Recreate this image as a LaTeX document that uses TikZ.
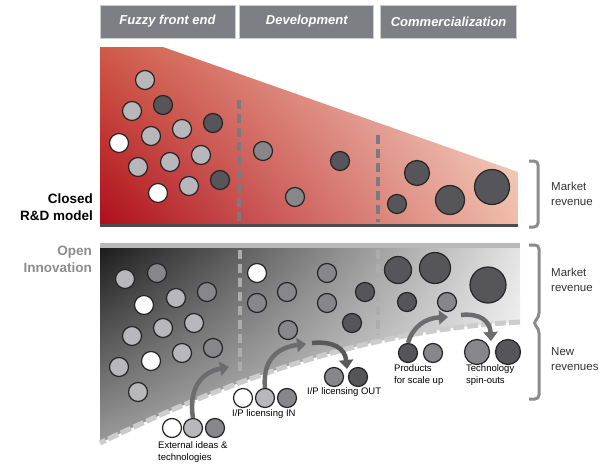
\documentclass[tikz,border=0pt]{standalone}
\usepackage{fontspec}
\setmainfont{Liberation Sans}
\usepackage{xcolor}
\usetikzlibrary{arrows.meta}
\usetikzlibrary{positioning}
\usetikzlibrary{shadings}

\definecolor{hdrgray}{HTML}{7E7F84}
\definecolor{ballL}{HTML}{B8B8BC}
\definecolor{ballM}{HTML}{87878B}
\definecolor{ballD}{HTML}{56565A}
\definecolor{closedTL}{HTML}{D05A48}
\definecolor{closedBL}{HTML}{AE0E1A}
\definecolor{closedTR}{HTML}{F7E0D6}
\definecolor{closedBR}{HTML}{F0BCA8}
\definecolor{openTL}{HTML}{1A1A1A}
\definecolor{openBL}{HTML}{9A9A9A}
\definecolor{openTR}{HTML}{E4E4E4}
\definecolor{openBR}{HTML}{FFFFFF}
\definecolor{arrowgray}{HTML}{6C6C6F}
\definecolor{bracegray}{HTML}{8C8C8E}
\definecolor{phasegray}{HTML}{7A7A80}

\begin{document}
\begin{tikzpicture}[x=1pt,y=-1pt,
	hdr/.style={fill=hdrgray,draw=gray!40,line width=0.8pt,minimum height=33pt,text=white,font=\fontsize{13}{14}\selectfont\bfseries\itshape},
	ball/.style={circle,draw=black!85,line width=1.2pt,fill=#1,inner sep=0pt,minimum size=19pt},
	phase/.style={draw=phasegray,line width=3.5pt,dash pattern=on 9pt off 5pt},
	flow/.style={draw=arrowgray,line width=4.5pt,-{Triangle[length=9pt,width=14pt]}},
	lbl/.style={font=\fontsize{9.5}{12}\selectfont,align=left,anchor=north west,inner sep=0pt},
	rev/.style={font=\fontsize{11.5}{15}\selectfont,align=left,anchor=west,inner sep=0pt,text=black!80},
	model/.style={font=\fontsize{13.5}{17.5}\selectfont\bfseries,align=right,anchor=east,inner sep=0pt},
	brace/.style={draw=bracegray,line width=3pt,rounded corners=4pt}]
		\useasboundingbox (0,0) rectangle (603,466);
		
		% phases
		\node[hdr,minimum width=135pt] (fuzzy) at (167.5,21.5) {Fuzzy front end};
		\node[hdr,minimum width=134pt,right=4pt of fuzzy] (devel) {Development};
		\node[hdr,minimum width=136pt,right=6pt of devel] (comm) {Commercialization};
		
		% closed R&D model
		\shade[upper left=closedTL,upper right=closedTR,lower left=closedBL,lower right=closedBR]
			(100,47) -- (163,47) -- (518,172) -- (518,226) -- (100,226) -- cycle;
		\draw[line width=3pt,draw=black!70] (100,225) -- (518,225);
		\draw[phase] (239,100) -- (239,222);
		\draw[phase] (378,135) -- (378,222);
		
		\foreach \x/\y/\c [count=\i] in {145/80/ballL,132/111/ballL,163/105/ballD,182/129/ballL,213/123/ballD,
			151/136/ballL,119/143/white,201/155/ballL,170/162/ballL,138/167/ballL,220/180/ballD,189/186/ballL,158/193/white}
			\node[ball=\c] (cl\i) at (\x,\y) {};
		\foreach \x/\y/\c/\s [count=\i] in {263/151/ballM/19,295/197/ballM/19,340/161/ballD/19,
			397/204/ballD/19,417/173/ballD/25,450/200/ballD/29,492/187/ballD/35}
			\node[ball=\c,minimum size=\s pt] (cm\i) at (\x,\y) {};
		
		\node[model] (closed) at (93,207) {Closed\\R\&D model};
		\draw[brace] (529,161) -| (538,227) -- (529,227);
		\node[rev] (mrev1) at (551,193.5) {Market\\revenue};
		
		% open innovation
		\shade[upper left=openTL,upper right=openTR,lower left=openBL,lower right=openBR]
			(100,245) -- (520,245) -- (520,322) .. controls (360,330) and (220,385) .. (100,443) -- cycle;
		\draw[line width=5pt,draw=gray!55] (100,245) -- (520,245);
		\draw[line width=5pt,draw=gray!40,dash pattern=on 11pt off 3pt]
			(520,322) .. controls (360,330) and (220,385) .. (100,443);
		\draw[phase,draw=gray!65] (240,250) -- (240,372);
		\draw[phase,draw=gray!65] (378,250) -- (378,335);
		
		\foreach \x/\y/\c [count=\i] in {125/279/ballL,157/273/ballM,144/305/white,176/298/ballL,207/292/ballM,
			132/336/ballL,163/328/ballL,194/323/ballL,119/367/ballL,151/361/white,182/353/ballL,213/348/ballM,138/392/ballL,
			257/273/white,257/303/ballM,287/292/ballM,288/330/ballM,327/273/ballM,327/303/ballM,365/292/ballD,352/323/ballD}
			\node[ball=\c] (op\i) at (\x,\y) {};
		\foreach \x/\y/\c/\s [count=\i] in {398/270/ballD/27,435/268/ballD/31,488/285/ballD/36,407/302/ballD/19,447/302/ballM/19}
			\node[ball=\c,minimum size=\s pt] (oc\i) at (\x,\y) {};
		
		\node[model,text=bracegray] (open) at (92,259.5) {Open\\Innovation};
		\draw[brace] (529,245) -| (539,317) -- (533,323) -- (539,329) |- (529,399);
		\node[rev] (mrev2) at (551,280) {Market\\revenue};
		\node[rev] (nrev) at (551,359.5) {New\\revenues};
		
		% outside the firm
		\node[ball=white] (ext1) at (172,428) {};
		\node[ball=ballL] (ext2) at (193,428) {};
		\node[ball=ballM] (ext3) at (215,428) {};
		\node[lbl] at (158,441) {External ideas \&\\technologies};
		
		\node[ball=white] (in1) at (243,398) {};
		\node[ball=ballL] (in2) at (265,398) {};
		\node[ball=ballM] (in3) at (287,398) {};
		\node[lbl] at (232,409) {I/P licensing IN};
		
		\node[ball=ballM] (out1) at (334,377) {};
		\node[ball=ballD] (out2) at (358,377) {};
		\node[lbl] at (307,387) {I/P licensing OUT};
		
		\node[ball=ballD] (prod1) at (408,353) {};
		\node[ball=ballM] (prod2) at (433,353) {};
		\node[lbl] at (394,364) {Products\\for scale up};
		
		\node[ball=ballM,minimum size=25pt] (spin1) at (477,352) {};
		\node[ball=ballD,minimum size=25pt] (spin2) at (508,352) {};
		\node[lbl] at (466,364) {Technology\\spin-outs};
		
		% flows
		\coordinate (extend) at (229,367);
		\coordinate (inend) at (306,344);
		\coordinate (outstart) at (312,343);
		\coordinate (outend) at (347,369);
		\coordinate (prodend) at (448,317);
		\coordinate (spinstart) at (461,315);
		\coordinate (spinend) at (491,341);
		\draw[flow] (ext2.north) .. controls (188,388) and (202,372) .. (extend);
		\draw[flow] (in2.north) .. controls (262,358) and (280,347) .. (inend);
		\draw[flow,draw=black!65] (outstart) .. controls (333,341) and (345,348) .. (outend);
		\draw[flow] (prod1.north) .. controls (413,326) and (426,318) .. (prodend);
		\draw[flow] (spinstart) .. controls (480,313) and (490,321) .. (spinend);
		
\end{tikzpicture}
\end{document}
